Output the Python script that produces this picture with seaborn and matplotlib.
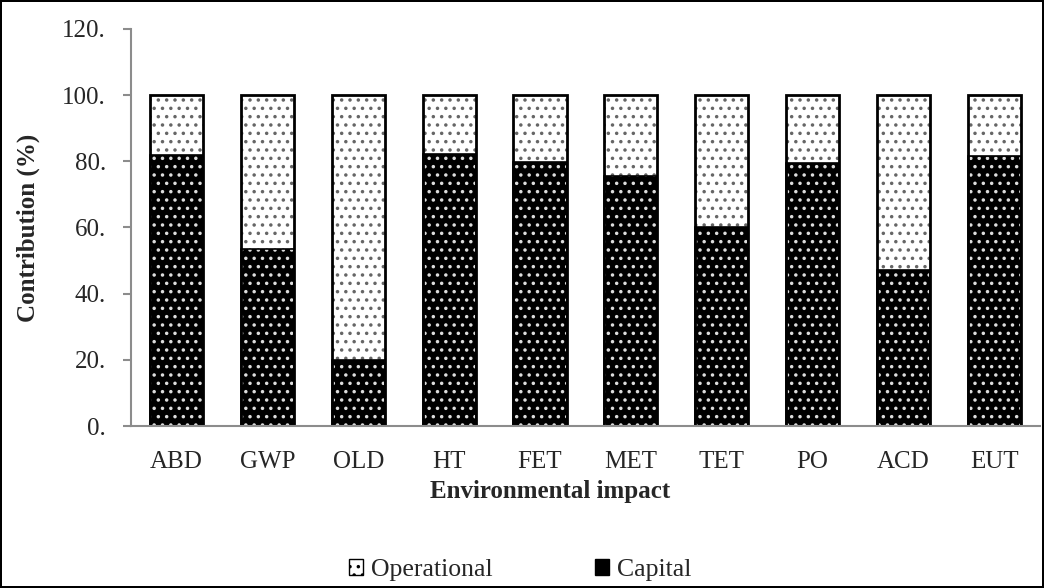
import pandas as pd
import matplotlib.pyplot as plt
import seaborn as sns
from matplotlib.patches import Patch
from matplotlib.ticker import FuncFormatter

# values (%)
impacts = ["ABD", "GWP", "OLD", "HT", "FET", "MET", "TET", "PO", "ACD", "EUT"]
capital = [81.9, 53.4, 19.9, 82.3, 79.7, 75.4, 60.1, 79.4, 47.2, 81.6]
operational = [18.1, 46.6, 80.1, 17.7, 20.3, 24.6, 39.9, 20.6, 52.8, 18.4]

df = pd.DataFrame({
    "impact": impacts,
    "Capital": capital,
    "Operational": operational,
})
df["total"] = df["Capital"] + df["Operational"]

sns.set_style("white")
plt.rcParams["font.family"] = ["Liberation Serif", "DejaVu Serif"]
plt.rcParams["hatch.linewidth"] = 1.3

fig = plt.figure(figsize=(10.44, 5.88), dpi=100)
fig.patch.set_edgecolor("black")
fig.patch.set_linewidth(1.5)
ax = fig.add_axes([0.1255, 0.2755, 0.8705, 0.6755])

# --------------------------
# operational (stacked on top -> drawn as total)

sns.barplot(data=df, x="impact", y="total", color="white",
            edgecolor="#666666", hatch="..", linewidth=0,
            width=0.585, ax=ax)

# capital

sns.barplot(data=df, x="impact", y="Capital", color="black",
            edgecolor="#dddddd", hatch="..", linewidth=0,
            width=0.585, ax=ax)

# outlines

sns.barplot(data=df, x="impact", y="total", color="black", fill=False,
            linewidth=2, width=0.585, ax=ax)
sns.barplot(data=df, x="impact", y="Capital", color="black", fill=False,
            linewidth=1.2, width=0.585, ax=ax)

# --------------------------

ax.set_ylim(0, 120)
ax.set_yticks(range(0, 121, 20))
ax.yaxis.set_major_formatter(FuncFormatter(lambda v, p: f"{v:.0f}."))

for side in ["top", "right"]:
    ax.spines[side].set_visible(False)
for side in ["left", "bottom"]:
    ax.spines[side].set_color("#8c8c8c")
    ax.spines[side].set_linewidth(1.5)

ax.tick_params(axis="y", length=6, width=1.5, color="#8c8c8c",
               labelsize=18, pad=12, direction="out", left=True)
ax.tick_params(axis="x", length=0, labelsize=18, pad=18)

ax.set_xlabel("Environmental impact", fontsize=18, fontweight="bold")
ax.set_ylabel("Contribution (%)", fontsize=18, fontweight="bold")
ax.xaxis.set_label_coords(0.461, -0.135)
ax.yaxis.set_label_coords(-0.1, 0.5)

handles = [
    Patch(facecolor="white", edgecolor="black", hatch="..", label="Operational"),
    Patch(facecolor="black", edgecolor="black", label="Capital"),
]
fig.legend(handles=handles, loc="center", ncol=2,
           bbox_to_anchor=(520 / 1044, 1 - 570 / 588),
           frameon=False, fontsize=18.5, handlelength=0.55, handleheight=0.55,
           handletextpad=0.3, columnspacing=4.0)

fig.savefig("out.png", dpi=100)
